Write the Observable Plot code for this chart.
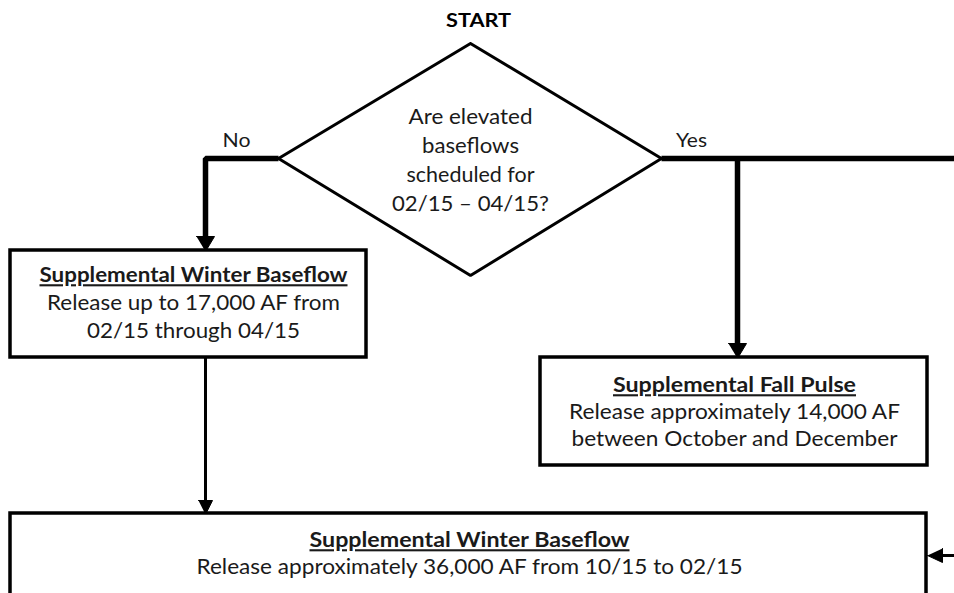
<!DOCTYPE html>
<html><head><meta charset="utf-8">
<script src="https://cdn.jsdelivr.net/npm/d3@7"></script>
<script src="https://cdn.jsdelivr.net/npm/@observablehq/plot@0.6"></script>
<style>body{margin:0;background:#fff;} svg{display:block;}</style>
</head><body><div id="chart"></div>
<script>
// Nodes of the flowchart
const boxNames = ["winterSupp", "fallPulse", "winterBase"];
const boxTitles = ["Supplemental Winter Baseflow", "Supplemental Fall Pulse", "Supplemental Winter Baseflow"];
const boxLines = [
  ["Release up to 17,000 AF from", "02/15 through 04/15"],
  ["Release approximately 14,000 AF", "between October and December"],
  ["Release approximately 36,000 AF from 10/15 to 02/15"]
];
const startLabel = "START";
const decisionLines = ["Are elevated", "baseflows", "scheduled for", "02/15 \u2013 04/15?"];
const branchLabels = ["No", "Yes"];

// Layout (pixel space)
const boxX1 = [10, 540, 10], boxX2 = [366, 927, 926];
const boxY1 = [250, 357, 513], boxY2 = [357, 465, 610];
const boxTitleY = [275, 385, 540];
const boxLineY = [[303, 331], [412, 439], [567]];
const boxCx = [193, 734, 469];
const diamond = [[470, 43], [661, 158], [470, 275], [278, 158]];

const boxes = boxNames.map((n, i) => ({n, x1: boxX1[i], x2: boxX2[i], y1: boxY1[i], y2: boxY2[i]}));
const titles = boxTitles.map((t, i) => ({t, x: boxCx[i], y: boxTitleY[i], i}));
const lines = boxLines.flatMap((ls, i) => ls.map((t, j) => ({t, x: boxCx[i], y: boxLineY[i][j], i})));
const dLines = decisionLines.map((t, j) => ({t, x: 470, y: 116 + j * 29.3}));
const diamondPts = [...diamond, diamond[0]].map(([x, y]) => ({x, y}));

// connectors
const thick = [
  {id: "no", pts: [[278, 158], [205, 158], [205, 240]]},
  {id: "yes", pts: [[661, 158], [954, 158]]},
  {id: "yesDown", pts: [[737, 158], [737, 346]]}
].flatMap(c => c.pts.map(([x, y]) => ({id: c.id, x, y})));
const thin = [
  {id: "down", pts: [[205, 357], [205, 502]]},
  {id: "side", pts: [[954, 555], [940, 555]]}
].flatMap(c => c.pts.map(([x, y]) => ({id: c.id, x, y})));
const heads = [
  {id: "h1", pts: [[196, 236], [214, 236], [205, 251]]},
  {id: "h2", pts: [[728, 343], [746, 343], [737, 358]]},
  {id: "h3", pts: [[198, 500], [212, 500], [205, 514]]},
  {id: "h4", pts: [[942, 548], [942, 562], [927, 555]]}
].flatMap(c => c.pts.map(([x, y]) => ({id: c.id, x, y})));

const font = "Lato, 'Open Sans', sans-serif";
const chart = Plot.plot({
  width: 954, height: 593, margin: 0,
  x: {domain: [0, 954], range: [0, 954], axis: null},
  y: {domain: [0, 593], range: [0, 593], axis: null},
  style: {fontFamily: font, background: "#fff"},
  marks: [
    Plot.line(thick, {x: "x", y: "y", z: "id", stroke: "black", strokeWidth: 5.5, strokeLinecap: "butt", strokeLinejoin: "miter", curve: "linear"}),
    Plot.line(thin, {x: "x", y: "y", z: "id", stroke: "black", strokeWidth: 3, strokeLinecap: "butt"}),
    Plot.line(heads, {x: "x", y: "y", z: "id", fill: "black", stroke: "black", strokeWidth: 1}),
    Plot.line(diamondPts, {x: "x", y: "y", fill: "white", stroke: "black", strokeWidth: 3, strokeLinejoin: "miter"}),
    Plot.rect(boxes, {x1: "x1", x2: "x2", y1: "y1", y2: "y2", fill: "white", stroke: "black", strokeWidth: 3.5}),
    Plot.text([startLabel], {x: 478, y: 20, text: d => d, fontSize: 19, fontWeight: "bold", fill: "black"}),
    Plot.text(dLines, {x: "x", y: "y", text: "t", fontSize: 22, fill: "#1a1a1a"}),
    Plot.text(branchLabels, {x: [236, 691], y: [140, 140], text: d => d, fontSize: 20, fill: "#1a1a1a"}),
    Plot.text(titles, {x: "x", y: "y", text: "t", fontSize: 21, fontWeight: "bold", fill: "#1a1a1a"}),
    Plot.text(lines, {x: "x", y: "y", text: "t", fontSize: 21.5, fill: "#1a1a1a"})
  ]
});
document.getElementById("chart").append(chart);
// fit text widths to the reference (in mark order)
const fitW = [65, 124, 97, 128, 157, 28, 31, 308, 243, 320, 293, 213, 331, 326, 546];
const underline = new Set([7, 8, 9]);
d3.select(chart).selectAll("text").each(function(d, k) {
  const s = d3.select(this);
  if (fitW[k]) s.attr("textLength", fitW[k]).attr("lengthAdjust", "spacingAndGlyphs");
  if (underline.has(k)) s.style("text-decoration", "underline");
});
</script></body></html>
